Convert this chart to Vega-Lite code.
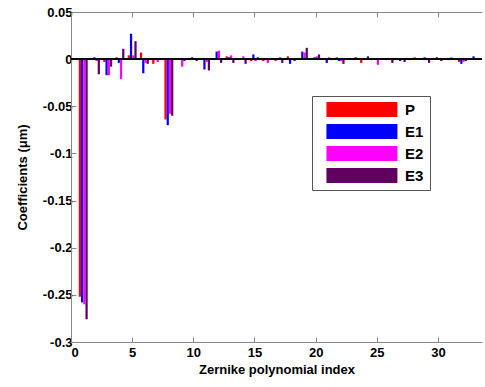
{
  "$schema": "https://vega.github.io/schema/vega-lite/v6.json",
  "width": 411,
  "height": 330,
  "padding": {"left": 16, "top": 6, "right": 0, "bottom": 5},
  "background": "white",
  "config": {
    "font": "Liberation Sans",
    "view": {"stroke": null},
    "axis": {
      "labelFont": "Liberation Sans",
      "labelFontWeight": "bold",
      "labelFontSize": 13,
      "labelColor": "#000",
      "titleFont": "Liberation Sans",
      "titleFontWeight": "bold",
      "titleFontSize": 13,
      "titleColor": "#000",
      "domainColor": "#888",
      "tickColor": "#888",
      "grid": false,
      "tickSize": -5,
      "labelPadding": 4
    }
  },
  "data": {
    "values": [
      {"i":1,"s":"P","v":-0.252},{"i":1,"s":"E1","v":-0.258},{"i":1,"s":"E2","v":-0.26},{"i":1,"s":"E3","v":-0.276},
      {"i":2,"s":"P","v":0.001},{"i":2,"s":"E1","v":0.002},{"i":2,"s":"E2","v":-0.002},{"i":2,"s":"E3","v":-0.016},
      {"i":3,"s":"P","v":-0.003},{"i":3,"s":"E1","v":-0.017},{"i":3,"s":"E2","v":-0.017},{"i":3,"s":"E3","v":-0.008},
      {"i":4,"s":"P","v":0.002},{"i":4,"s":"E1","v":-0.004},{"i":4,"s":"E2","v":-0.021},{"i":4,"s":"E3","v":0.011},
      {"i":5,"s":"P","v":0.004},{"i":5,"s":"E1","v":0.027},{"i":5,"s":"E2","v":0.004},{"i":5,"s":"E3","v":0.019},
      {"i":6,"s":"P","v":0.007},{"i":6,"s":"E1","v":-0.015},{"i":6,"s":"E2","v":-0.004},{"i":6,"s":"E3","v":-0.005},
      {"i":7,"s":"P","v":-0.005},{"i":7,"s":"E1","v":-0.001},{"i":7,"s":"E2","v":-0.003},{"i":7,"s":"E3","v":0.001},
      {"i":8,"s":"P","v":-0.064},{"i":8,"s":"E1","v":-0.07},{"i":8,"s":"E2","v":-0.058},{"i":8,"s":"E3","v":-0.06},
      {"i":9,"s":"P","v":0.001},{"i":9,"s":"E1","v":0.0},{"i":9,"s":"E2","v":-0.008},{"i":9,"s":"E3","v":-0.002},
      {"i":10,"s":"P","v":-0.001},{"i":10,"s":"E1","v":0.002},{"i":10,"s":"E2","v":0.001},{"i":10,"s":"E3","v":-0.002},
      {"i":11,"s":"P","v":0.001},{"i":11,"s":"E1","v":-0.011},{"i":11,"s":"E2","v":-0.003},{"i":11,"s":"E3","v":-0.012},
      {"i":12,"s":"P","v":0.0},{"i":12,"s":"E1","v":0.008},{"i":12,"s":"E2","v":0.009},{"i":12,"s":"E3","v":-0.004},
      {"i":13,"s":"P","v":0.003},{"i":13,"s":"E1","v":0.002},{"i":13,"s":"E2","v":0.004},{"i":13,"s":"E3","v":-0.004},
      {"i":14,"s":"P","v":-0.001},{"i":14,"s":"E1","v":0.001},{"i":14,"s":"E2","v":0.003},{"i":14,"s":"E3","v":-0.005},
      {"i":15,"s":"P","v":-0.002},{"i":15,"s":"E1","v":0.005},{"i":15,"s":"E2","v":-0.002},{"i":15,"s":"E3","v":0.002},
      {"i":16,"s":"P","v":-0.002},{"i":16,"s":"E1","v":0.0},{"i":16,"s":"E2","v":-0.004},{"i":16,"s":"E3","v":-0.001},
      {"i":17,"s":"P","v":-0.002},{"i":17,"s":"E1","v":-0.001},{"i":17,"s":"E2","v":0.002},{"i":17,"s":"E3","v":-0.004},
      {"i":18,"s":"P","v":0.003},{"i":18,"s":"E1","v":-0.005},{"i":18,"s":"E2","v":-0.001},{"i":18,"s":"E3","v":-0.002},
      {"i":19,"s":"P","v":0.0},{"i":19,"s":"E1","v":0.008},{"i":19,"s":"E2","v":0.007},{"i":19,"s":"E3","v":0.012},
      {"i":20,"s":"P","v":0.001},{"i":20,"s":"E1","v":0.002},{"i":20,"s":"E2","v":0.003},{"i":20,"s":"E3","v":0.005},
      {"i":21,"s":"P","v":0.0},{"i":21,"s":"E1","v":-0.004},{"i":21,"s":"E2","v":0.002},{"i":21,"s":"E3","v":-0.001},
      {"i":22,"s":"P","v":0.002},{"i":22,"s":"E1","v":-0.002},{"i":22,"s":"E2","v":-0.002},{"i":22,"s":"E3","v":-0.005},
      {"i":23,"s":"P","v":0.001},{"i":23,"s":"E1","v":0.0},{"i":23,"s":"E2","v":-0.001},{"i":23,"s":"E3","v":0.002},
      {"i":24,"s":"P","v":-0.004},{"i":24,"s":"E1","v":0.0},{"i":24,"s":"E2","v":0.001},{"i":24,"s":"E3","v":0.003},
      {"i":25,"s":"P","v":0.001},{"i":25,"s":"E1","v":0.001},{"i":25,"s":"E2","v":-0.006},{"i":25,"s":"E3","v":0.0},
      {"i":26,"s":"P","v":0.001},{"i":26,"s":"E1","v":0.0},{"i":26,"s":"E2","v":-0.001},{"i":26,"s":"E3","v":-0.004},
      {"i":27,"s":"P","v":0.0},{"i":27,"s":"E1","v":-0.002},{"i":27,"s":"E2","v":0.001},{"i":27,"s":"E3","v":-0.003},
      {"i":28,"s":"P","v":-0.001},{"i":28,"s":"E1","v":0.0},{"i":28,"s":"E2","v":0.002},{"i":28,"s":"E3","v":0.0},
      {"i":29,"s":"P","v":0.001},{"i":29,"s":"E1","v":0.002},{"i":29,"s":"E2","v":0.0},{"i":29,"s":"E3","v":-0.004},
      {"i":30,"s":"P","v":0.0},{"i":30,"s":"E1","v":0.002},{"i":30,"s":"E2","v":0.001},{"i":30,"s":"E3","v":-0.002},
      {"i":31,"s":"P","v":0.001},{"i":31,"s":"E1","v":-0.001},{"i":31,"s":"E2","v":0.002},{"i":31,"s":"E3","v":0.0},
      {"i":32,"s":"P","v":-0.003},{"i":32,"s":"E1","v":-0.005},{"i":32,"s":"E2","v":-0.003},{"i":32,"s":"E3","v":-0.002},
      {"i":33,"s":"P","v":0.001},{"i":33,"s":"E1","v":0.003},{"i":33,"s":"E2","v":-0.001},{"i":33,"s":"E3","v":0.0}
    ]
  },
  "transform": [
    {"calculate": "datum.i - 0.365 + indexof(['P','E1','E2','E3'], datum.s) * 0.1825", "as": "xs"},
    {"calculate": "datum.xs + 0.1825", "as": "xe"}
  ],
  "layer": [
    {
      "mark": {"type": "bar", "strokeWidth": 0},
      "encoding": {
        "x": {
          "field": "xs", "type": "quantitative",
          "scale": {"domain": [0, 33.6], "nice": false, "zero": false},
          "axis": {"values": [0, 5, 10, 15, 20, 25, 30], "title": "Zernike polynomial index", "titlePadding": 4, "labelPadding": 9, "format": "d"}
        },
        "x2": {"field": "xe"},
        "y": {
          "field": "v", "type": "quantitative",
          "scale": {"domain": [-0.3, 0.05], "nice": false},
          "axis": {
            "values": [-0.3, -0.25, -0.2, -0.15, -0.1, -0.05, 0, 0.05],
            "title": "Coefficients (\u03bcm)",
            "titlePadding": 13,
            "labelExpr": "replace(format(datum.value, '~g'), '\u2212', '-')"
          }
        },
        "y2": {"datum": 0},
        "color": {
          "field": "s", "type": "nominal",
          "scale": {"domain": ["P", "E1", "E2", "E3"], "range": ["#ff0000", "#0000ff", "#ff00ff", "#600060"]},
          "legend": {
            "orient": "none",
            "legendX": 241,
            "legendY": 84,
            "title": null,
            "symbolType": "M-1,-0.2454H1.3226V0.2454H-1Z",
            "symbolSize": 3735,
            "symbolStrokeWidth": 0,
            "clipHeight": 15,
            "rowPadding": 6,
            "padding": 6,
            "symbolOffset": 8,
            "labelOffset": 17,
            "labelFont": "Liberation Sans",
            "labelFontSize": 15,
            "labelFontWeight": "bold",
            "labelColor": "#000",
            "strokeColor": "#555",
            "fillColor": "white"
          }
        }
      }
    },
    {
      "mark": {"type": "rule", "color": "#000", "strokeWidth": 1},
      "encoding": {"y": {"datum": 0}}
    },
    {
      "mark": {"type": "tick", "opacity": 0},
      "encoding": {
        "x": {"field": "xs", "type": "quantitative", "axis": {"orient": "top", "values": [0, 5, 10, 15, 20, 25, 30], "labels": false, "title": null, "domain": true}}
      }
    }
  ],
  "resolve": {"axis": {"x": "independent"}}
}
